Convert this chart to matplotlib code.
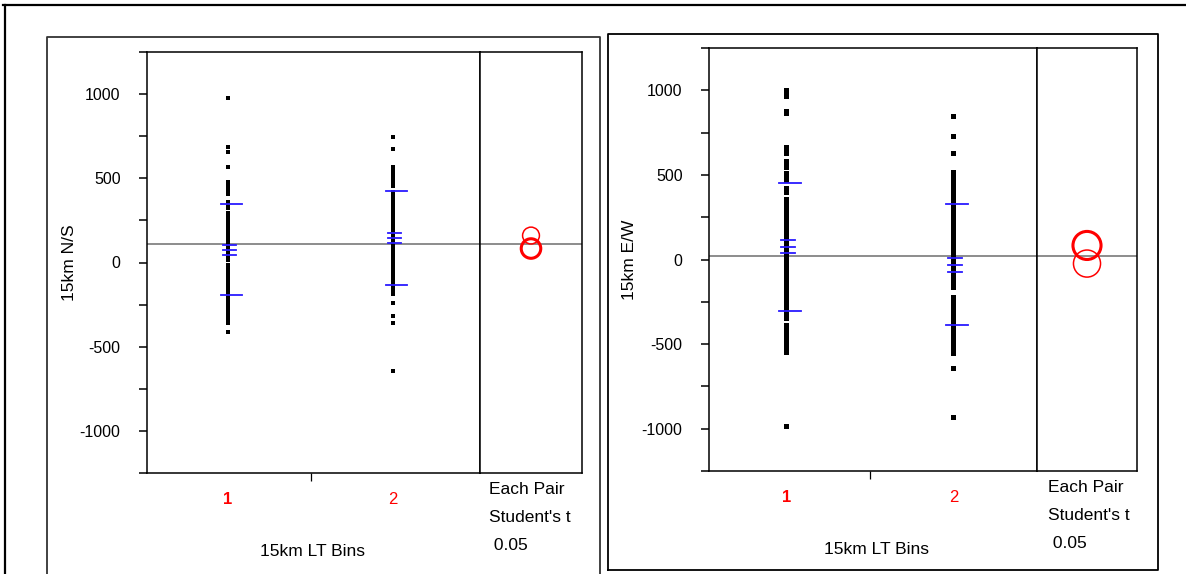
import numpy as np
import matplotlib.pyplot as plt
from matplotlib.lines import Line2D
from matplotlib.patches import Ellipse

plt.rcParams['font.family'] = ['Liberation Sans', 'DejaVu Sans']

# values
groups = [1, 2]
group_labels = ["1", "2"]

ns_bin1 = [976, 685, 655, 565, 476, 452, 428, 405, 357, 345, 333, 321, 291, 278, 265, 252,
           240, 228, 215, 202, 190, 178, 165, 152, 140, 128, 115, 102, 90, 78, 65, 52, 40,
           25, 12, -12, -24, -42, -55, -68, -80, -92, -105, -118, -130, -142, -155, -168,
           -180, -192, -202, -226, -240, -252, -265, -278, -290, -305, -318, -333, -357, -411]
ns_bin2 = [744, 673, 565, 552, 540, 527, 515, 502, 490, 477, 465, 452, 417, 405, 393, 381,
           369, 357, 345, 333, 321, 309, 297, 285, 273, 261, 249, 237, 225, 213, 201, 189,
           177, 165, 153, 141, 129, 117, 107, 95, 83, 71, 59, 47, 35, 24, 12, 0, -12, -24,
           -36, -48, -60, -72, -84, -95, -113, -125, -137, -149, -160, -167, -190, -238,
           -315, -357, -643]
ew_bin1 = [1000, 990, 975, 965, 880, 865, 665, 645, 630, 585, 565, 545, 510, 490, 470, 425,
           400, 360, 340, 309, 290, 270, 250, 230, 210, 190, 170, 150, 130, 110, 90, 70, 50,
           30, 10, -10, -30, -50, -70, -90, -110, -130, -150, -170, -190, -210, -230, -250,
           -270, -290, -310, -330, -345, -385, -405, -425, -445, -465, -485, -505, -525,
           -545, -982]
ew_bin2 = [851, 732, 631, 520, 500, 480, 460, 440, 420, 400, 380, 355, 335, 315, 295, 275,
           258, 238, 218, 198, 178, 158, 138, 118, 98, 78, 58, 38, 18, -2, -22, -42, -62,
           -82, -102, -122, -142, -162, -222, -242, -262, -282, -298, -318, -338, -358,
           -378, -398, -418, -438, -455, -478, -498, -518, -538, -554, -643, -928]

# means / std dev / std error, grand mean, comparison circles
ns_mean = [76, 144]
ns_sd = [270, 278]
ns_se = [29, 30]
ns_grand = 107
ns_circ_center = [83, 160]
ns_circ_radius = [58, 50]

ew_mean = [76, -30]
ew_sd = [378, 357]
ew_se = [38, 41]
ew_grand = 18
ew_circ_center = [83, -24]
ew_circ_radius = [83, 80]

W, H = 1186, 574
fig = plt.figure(figsize=(W / 100, H / 100), dpi=100)


def rect(x0, y0, x1, y1):
    return [x0 / W, 1 - y1 / H, (x1 - x0) / W, (y1 - y0) / H]


def fline(xs, ys, lw=1.5, color="black"):
    fig.add_artist(Line2D([x / W for x in xs], [1 - y / H for y in ys],
                          lw=lw, color=color, transform=fig.transFigure))


def panel(main_box, circ_box, xlim, data, mean, sd, se, grand, cc, cr, ylabel,
          msize, ylab_x, xlab_xy, txt_x, txt_y0):
    ax = fig.add_axes(rect(*main_box))
    axc = fig.add_axes(rect(*circ_box))
    for a in (ax, axc):
        a.set_ylim(-1250, 1250)
        for s in a.spines.values():
            s.set_linewidth(1.1)
        a.axhline(grand, color="#8c8c8c", lw=1.4, zorder=1)
    ax.set_xlim(*xlim)
    for g, vals in zip(groups, data):
        ax.plot([g] * len(vals), vals, "s", color="black", ms=msize, mew=0, zorder=2)
    for g, m, s, e in zip(groups, mean, sd, se):
        for y in (m - s, m + s):
            ax.plot([g - 0.045, g + 0.085], [y, y], color="#2a1aff", lw=1.3, zorder=3)
        for y in (m - e, m, m + e):
            ax.plot([g - 0.03, g + 0.05], [y, y], color="#2a1aff", lw=1.3, zorder=3)
    ticks = np.arange(-1250, 1251, 250)
    ax.set_yticks(ticks)
    ax.set_yticklabels([str(int(v)) if v % 500 == 0 else "" for v in ticks])
    ax.tick_params(axis="y", length=6, width=1.1, pad=13, labelsize=11.5)
    ax.set_xticks([1.5])
    ax.set_xticklabels([""])
    ax.tick_params(axis="x", length=6, width=0.9)
    for g, lab in zip(groups, group_labels):
        ax.text(g, -1250 - 155, lab, color="red", ha="center", va="center", fontsize=12,
                fontweight="bold" if lab == "1" else "normal")
    ax.set_ylabel(ylabel, fontsize=12.5)
    ax.yaxis.set_label_coords((ylab_x - main_box[0]) / (main_box[2] - main_box[0]), 0.5)
    fig.text(xlab_xy[0] / W, 1 - xlab_xy[1] / H, "15km LT Bins", ha="center", va="center",
             fontsize=12.5)

    # comparison circles
    axc.set_xlim(0, 1)
    axc.set_xticks([])
    axc.set_yticks([])
    wpx = (circ_box[2] - circ_box[0])
    hpx = (circ_box[3] - circ_box[1])
    for k, (c, r) in enumerate(zip(cc, cr)):
        rpx = r * hpx / 2500
        axc.add_patch(Ellipse((0.5, c), 2 * rpx / wpx, 2 * r, fill=False, edgecolor="red",
                              lw=2.2 if k == 0 else 1.1, zorder=3))
    for i, t in enumerate(["Each Pair", "Student's t", " 0.05"]):
        fig.text(txt_x / W, 1 - (txt_y0 + 28 * i) / H, t, ha="left", va="center",
                 fontsize=12.5)


panel((147, 52, 480, 473), (480, 52, 582, 473), (0.509, 2.527), [ns_bin1, ns_bin2],
      ns_mean, ns_sd, ns_se, ns_grand, ns_circ_center, ns_circ_radius, "15km N/S",
      2.3, 77, (312, 552), 489, 489)
panel((709, 48, 1037, 471), (1037, 48, 1137, 471), (0.536, 2.5), [ew_bin1, ew_bin2],
      ew_mean, ew_sd, ew_se, ew_grand, ew_circ_center, ew_circ_radius, "15km E/W",
      3.6, 637, (877, 550), 1048, 488)

# outer frames
fline([3, 1186], [5, 5], lw=1.6)
fline([5, 5], [5, 574], lw=1.6)
fline([47, 47, 600, 600], [574, 37, 37, 574], lw=1.3, color="#333333")
fline([608, 608, 1158, 1158, 608], [570, 34, 34, 570, 570], lw=1.3)

fig.savefig("out.png", dpi=100)
